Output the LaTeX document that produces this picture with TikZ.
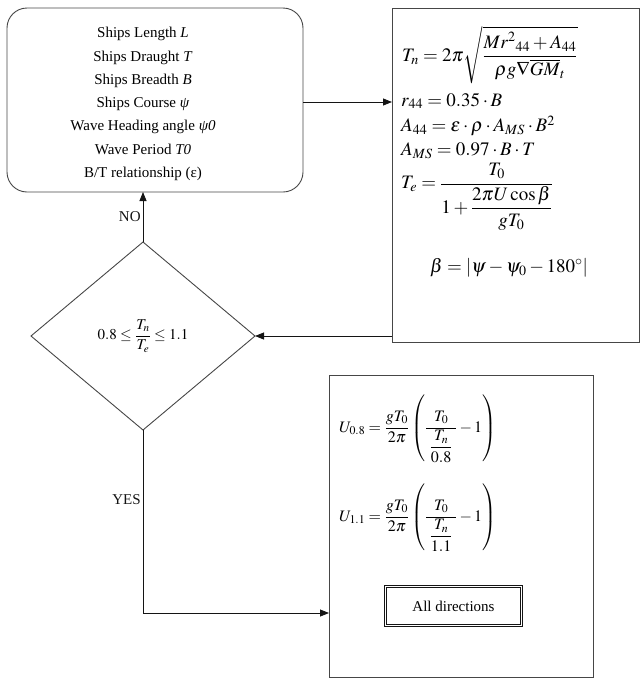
\documentclass[tikz,border=0pt]{standalone}
\usepackage{amsmath}
\usepackage{mathptmx}
\usepackage[no-math]{fontspec}
\setmainfont{Liberation Serif}
\newfontfamily\tnr{Liberation Serif}
\usepackage{xcolor}
\usetikzlibrary{shapes.geometric, arrows.meta, positioning}
\definecolor{linegray}{RGB}{70,70,70}
\definecolor{mydark}{RGB}{20,20,20}
\newcommand{\tallstrut}{\vrule width 0pt height 40pt depth 32pt}
\tikzset{
  inbox/.style={rectangle, draw=linegray, line width=0.9pt,
    rounded corners=20pt, inner sep=0pt, outer sep=0pt},
  eqbox/.style={rectangle, draw=linegray, line width=0.9pt,
    inner sep=0pt, outer sep=0pt},
  eq/.style={inner sep=0pt, anchor=west, font=\fontsize{19}{22}\selectfont},
  smalleq/.style={inner sep=0pt, anchor=west, font=\fontsize{16}{19}\selectfont},
  arr/.style={-{Triangle[length=9pt, width=7pt]}, line width=0.8pt, color=mydark},
  lbl/.style={font=\tnr\fontsize{15}{18}\selectfont, inner sep=2pt}
}

\begin{document}
\begin{tikzpicture}[
  x=1pt, y=-1pt,
  check/.style={diamond, draw=linegray, line width=0.9pt, aspect=1.2,
    minimum width=224pt, minimum height=188pt, inner sep=0pt, outer sep=0pt,
    font=\fontsize{15}{18}\selectfont},
  endbox/.style={rectangle, draw=mydark, double=white, double distance=1.6pt,
    line width=0.8pt, minimum width=136pt, minimum height=39pt,
    font=\tnr\fontsize{15}{18}\selectfont}
]
\useasboundingbox (0,0) rectangle (640,678);

\node[inbox, minimum width=296pt, minimum height=184pt] (inputs) at (155,100) {};
\node[align=center, font=\tnr\fontsize{15}{23.3}\selectfont] (inputtext) at (143,104)
  {Ships Length \textit{L}\\ Ships Draught \textit{T}\\ Ships Breadth \textit{B}\\
   Ships Course \textit{ψ}\\ Wave Heading angle \textit{ψ0}\\ Wave Period \textit{T0}\\
   B/T relationship (ε)};

\node[eqbox, minimum width=247pt, minimum height=334pt] (formulas) at (515.5,175) {};
\node[eq] (eqTn) at (402,55)
  {$T_n = 2\pi\sqrt{\dfrac{Mr^{2}{}_{44}+A_{44}}{\rho g\nabla\overline{GM}_{t}}}$};
\node[eq] (eqr) at (401,101) {$r_{44} = 0.35\cdot B$};
\node[eq] (eqA) at (401,126) {$A_{44} = \varepsilon\cdot\rho\cdot A_{MS}\cdot B^{2}$};
\node[eq] (eqAms) at (401,151) {$A_{MS} = 0.97\cdot B\cdot T$};
\node[eq] (eqTe) at (401,197) {$T_e = \dfrac{T_0}{1+\dfrac{2\pi U\cos\beta}{gT_0}}$};
\node[eq] (eqbeta) at (430,268) {$\beta = \left|\psi-\psi_0-180^\circ\right|$};

\node[check] (cond) at (143,336) {$0.8\le\dfrac{T_n}{T_e}\le1.1$};

\node[eqbox, minimum width=264pt, minimum height=302pt] (speeds) at (461,526) {};
\node[smalleq] (eqU08) at (339,428)
  {$U_{0.8} = \dfrac{gT_0}{2\pi}\left(\tallstrut\dfrac{T_0}{\;\dfrac{T_n}{0.8}\;}-1\right)$};
\node[smalleq] (eqU11) at (339,517)
  {$U_{1.1} = \dfrac{gT_0}{2\pi}\left(\tallstrut\dfrac{T_0}{\;\dfrac{T_n}{1.1}\;}-1\right)$};
\node[endbox] (alldir) at (453.5,606) {All directions};

\draw[arr] (inputs.east |- 0,102) -- (formulas.west |- 0,102);
\draw[arr] (formulas.west |- cond.east) -- (cond.east);
\draw[arr] (cond.north) -- node[lbl, left]{NO} (cond.north |- inputs.south);
\draw[arr] (cond.south) |- node[lbl, left, pos=0.19]{YES} ([yshift=-87pt]speeds.west);
\end{tikzpicture}
\end{document}
